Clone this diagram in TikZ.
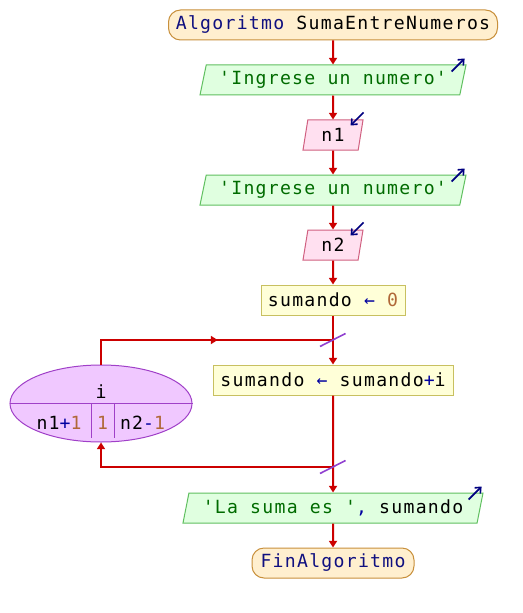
\documentclass[tikz,border=0pt]{standalone}
\usepackage{fontspec}
\newfontfamily\code[LetterSpace=7]{DejaVu Sans Mono}
\usetikzlibrary{shapes.geometric,arrows.meta,decorations.markings,calc}
\definecolor{flowc}{HTML}{CC0000}
\definecolor{termfill}{HTML}{FFEFCF}
\definecolor{termdraw}{HTML}{C8903C}
\definecolor{outfill}{HTML}{E0FFE0}
\definecolor{outdraw}{HTML}{60C060}
\definecolor{infill}{HTML}{FFE0F0}
\definecolor{indraw}{HTML}{D06080}
\definecolor{procfill}{HTML}{FFFFD8}
\definecolor{procdraw}{HTML}{C8C060}
\definecolor{ellfill}{HTML}{F0C8FF}
\definecolor{elldraw}{HTML}{A040C8}
\definecolor{slashc}{HTML}{9040D0}
\definecolor{iocol}{HTML}{000080}
\definecolor{strc}{HTML}{006B00}
\definecolor{kwc}{HTML}{101080}
\definecolor{opc}{HTML}{0000A0}
\definecolor{numc}{HTML}{B06838}
\newcommand{\kw}[1]{\textcolor{kwc}{#1}}
\newcommand{\strg}[1]{\textcolor{strc}{#1}}
\newcommand{\opr}[1]{\textcolor{opc}{#1}}
\newcommand{\numb}[1]{\textcolor{numc}{#1}}
\tikzset{
  base/.style={line width=0.75pt, minimum height=22.5pt, inner sep=0pt, text=black},
  term/.style={base, rectangle, rounded corners=9pt, fill=termfill, draw=termdraw},
  outp/.style={base, trapezium, trapezium left angle=70, trapezium right angle=110,
    trapezium stretches body=true, fill=outfill, draw=outdraw},
  inp/.style={base, trapezium, trapezium left angle=70, trapezium right angle=110,
    trapezium stretches body=true, fill=infill, draw=indraw},
  proc/.style={base, rectangle, fill=procfill, draw=procdraw},
  loopell/.style={ellipse, line width=0.75pt, fill=ellfill, draw=elldraw, inner sep=0pt},
  flow/.style={draw=flowc, line width=1.5pt},
  flowarr/.style={flow, -{Triangle[length=5pt,width=6pt]}},
  midarr/.style={flow, postaction={decorate}, decoration={markings,
    mark=at position #1 with {\arrow{Triangle[length=5pt,width=6pt]}}}},
  slash/.style={draw=slashc, line width=1.2pt},
  ioarr/.style={draw=iocol, line width=1.2pt, -{Straight Barb[length=3.5pt,width=6pt]}},
  txt/.style={inner sep=0pt, text=black}
}
\begin{document}
\begin{tikzpicture}[x=0.75pt,y=-0.75pt, font=\fontsize{13.6pt}{16pt}\selectfont\code]
\useasboundingbox (0,0) rectangle (523,613);
\fill[white] (0,0) rectangle (523,613);

\node[term, minimum width=246.75pt] (start) at (333,25) {\kw{Algoritmo} SumaEntreNumeros};
\node[outp, minimum width=199.5pt] (o1) at (333,80) {\strg{'Ingrese un numero'}};
\node[inp, minimum width=45pt] (n1) at (333,135) {n1};
\node[outp, minimum width=199.5pt] (o2) at (333,190) {\strg{'Ingrese un numero'}};
\node[inp, minimum width=45pt] (n2) at (333,245) {n2};
\node[proc, minimum width=108pt] (a1) at (333,300) {sumando \opr{←} \numb{0}};
\node[proc, minimum width=180pt] (a2) at (333,380) {sumando \opr{←} sumando\opr{+}i};
\node[outp, minimum width=225pt] (o3) at (333,508) {\strg{'La suma es '}\opr{,} sumando};
\node[term, minimum width=121.5pt] (end) at (333,563) {\kw{FinAlgoritmo}};

% loop ellipse
\node[loopell, minimum width=136.5pt, minimum height=57.75pt] (loop) at (101,403.5) {};
\draw[draw=elldraw, line width=0.75pt] (loop.west) -- (loop.east);
\coordinate (d1t) at (91,404); \coordinate (d1b) at (91,438);
\coordinate (d2t) at (114,404); \coordinate (d2b) at (114,438);
\draw[draw=elldraw, line width=0.75pt] (d1t) -- (d1b);
\draw[draw=elldraw, line width=0.75pt] (d2t) -- (d2b);
\node[txt] (lv) at (101,392) {i};
\node[txt] (lfrom) at (59,423) {n1\opr{+}\numb{1}};
\node[txt] (lstep) at (102.5,423) {\numb{1}};
\node[txt] (lto) at (142.5,423) {n2\opr{-}\numb{1}};

% connectors
\draw[flowarr] (start.south) -- (o1.north);
\draw[flowarr] (o1.south) -- (n1.north);
\draw[flowarr] (n1.south) -- (o2.north);
\draw[flowarr] (o2.south) -- (n2.north);
\draw[flowarr] (n2.south) -- (a1.north);
\draw[flowarr] (a1.south) -- (a2.north);
\coordinate (j1) at (333,340);
\coordinate (j2) at (333,467);
\draw[midarr=0.55] (loop.north) |- (j1);
\draw[flowarr] (a2.south) -- (o3.north);
\draw[flowarr] (j2) -| (loop.south);
\draw[flowarr] (o3.south) -- (end.north);

% slashes
\coordinate (s1a) at (320,346.5); \coordinate (s1b) at (345.5,333.5);
\coordinate (s2a) at (320,473.5); \coordinate (s2b) at (345.5,460.5);
\draw[slash] (s1a) -- (s1b);
\draw[slash] (s2a) -- (s2b);

% io arrows
\draw[ioarr] ($(o1.top right corner)+(-15,7)$) -- ($(o1.top right corner)+(-2,-6)$);
\draw[ioarr] ($(o2.top right corner)+(-15,7)$) -- ($(o2.top right corner)+(-2,-6)$);
\draw[ioarr] ($(o3.top right corner)+(-15,7)$) -- ($(o3.top right corner)+(-2,-6)$);
\draw[ioarr] ($(n1.top right corner)+(0,-7)$) -- ($(n1.top right corner)+(-13,6)$);
\draw[ioarr] ($(n2.top right corner)+(0,-7)$) -- ($(n2.top right corner)+(-13,6)$);
\end{tikzpicture}
\end{document}
